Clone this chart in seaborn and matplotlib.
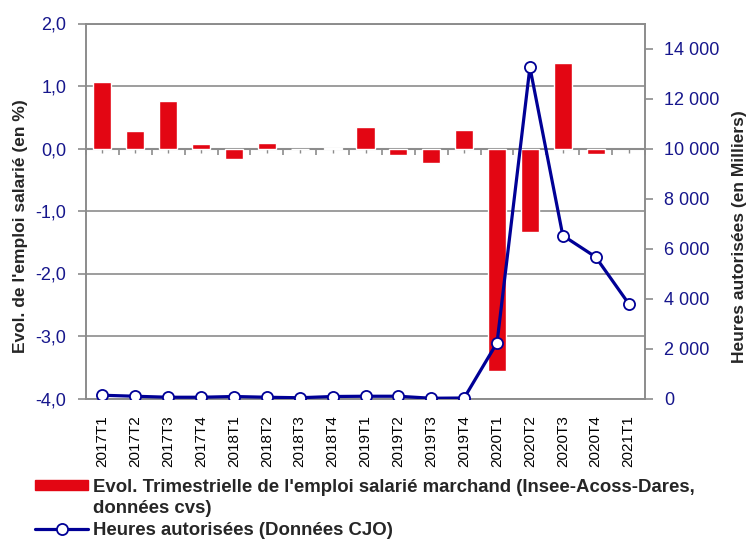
import numpy as np
import pandas as pd
import matplotlib
matplotlib.use("Agg")
import matplotlib.pyplot as plt
import seaborn as sns
from matplotlib.patches import Patch
from matplotlib.lines import Line2D
from matplotlib.ticker import FuncFormatter

# data
quarters = ["2017T1", "2017T2", "2017T3", "2017T4",
            "2018T1", "2018T2", "2018T3", "2018T4",
            "2019T1", "2019T2", "2019T3", "2019T4",
            "2020T1", "2020T2", "2020T3", "2020T4", "2021T1"]
emploi = [1.07, 0.28, 0.76, 0.08, -0.17, 0.09, 0.0, 0.01,
          0.35, -0.11, -0.23, 0.30, -3.56, -1.34, 1.37, -0.08, np.nan]
heures = [130, 90, 50, 50, 80, 50, 30, 80,
          90, 90, 10, 20, 2230, 13250, 6520, 5660, 3800]

lbl_emploi = "Evol. Trimestrielle de l'emploi salarié marchand (Insee-Acoss-Dares,"
lbl_emploi_2 = "données cvs)"
lbl_heures = "Heures autorisées (Données CJO)"

df = pd.DataFrame({"trimestre": quarters, "emploi": emploi, "heures": heures})

red = "#e30613"
navy = "#000096"
tickblue = "#16168c"
grey = "#8c8c8c"

sns.set_style("white")
plt.rcParams["font.family"] = ["Liberation Sans", "DejaVu Sans"]

fig = plt.figure(figsize=(7.5, 5.41), dpi=100)
# plot area: 86..645 px wide, 23..398 px tall
ax = fig.add_axes([86 / 750, 142.5 / 541, 559 / 750, 375 / 541])

sns.barplot(data=df, x="trimestre", y="emploi", color=red, saturation=1,
            width=0.55, ax=ax, zorder=3)
ax.set_ylim(-4, 2)
ax.set_yticks(np.arange(-4, 2.1, 1))
ax.yaxis.set_major_formatter(FuncFormatter(lambda v, p: f"{v:.1f}".replace(".", ",")))
ax.grid(axis="y", color=grey, linewidth=1.2, zorder=0)
ax.set_axisbelow(True)
for s in ["left", "bottom", "top", "right"]:
    ax.spines[s].set_color(grey)
    ax.spines[s].set_linewidth(1.2)
ax.tick_params(axis="y", colors=grey, labelcolor=tickblue, labelsize=13,
               length=6, width=1.2, left=True, direction="out", pad=8)
ax.tick_params(axis="x", length=0, labelsize=11, labelrotation=90, pad=12,
               labelcolor="black")
ax.set_xlabel("")
ax.set_ylabel("Evol. de l'emploi salarié (en %)", fontsize=12.5,
              fontweight="bold")
ax.yaxis.set_label_coords(-0.104, 0.459)

# category axis crossing at zero: line plus small tick marks below it
n = len(quarters)
ax.hlines(0, -0.5, n - 0.5, color=grey, linewidth=1.5, zorder=2.5)
ax.plot(np.arange(-0.5, n, 1), np.zeros(n + 1), linestyle="none", marker=3,
        markersize=4, markeredgewidth=1.2, color=grey, zorder=2, clip_on=False)
ax.plot(np.arange(0, n, 1), np.zeros(n), linestyle="none", marker=3,
        markersize=3, markeredgewidth=1.0, color=grey, zorder=2)

ax2 = ax.twinx()
sns.pointplot(data=df, x="trimestre", y="heures", color=navy, ax=ax2,
              markers="o", linewidth=2.3, markersize=8,
              markerfacecolor="white", markeredgecolor=navy,
              markeredgewidth=1.3, zorder=5)
ax2.set_ylim(0, 15000)
ax2.set_yticks(np.arange(0, 14001, 2000))
ax2.yaxis.set_major_formatter(FuncFormatter(lambda v, p: f"{int(v):,}".replace(",", " ")))
ax2.tick_params(axis="y", colors=grey, labelcolor=tickblue, labelsize=13,
                length=6, width=1.2, right=True, direction="out", pad=8)
ax2.set_ylabel("Heures autorisées (en Milliers)", fontsize=12.5,
               fontweight="bold")
ax2.yaxis.set_label_coords(1.1557, 0.432)
ax2.grid(False)
for s in ["left", "bottom", "top", "right"]:
    ax2.spines[s].set_color(grey)
    ax2.spines[s].set_linewidth(1.2)
ax.set_xlim(-0.5, n - 0.5)
ax2.set_xlim(-0.5, n - 0.5)

# legend: the long label wraps onto a second row without a key
handles = [Patch(facecolor=red, edgecolor=red),
           Patch(facecolor="none", edgecolor="none"),
           Line2D([0], [0], color=navy, linewidth=2.3, marker="o",
                  markersize=8, markerfacecolor="white",
                  markeredgecolor=navy, markeredgewidth=1.3)]
fig.legend(handles, [lbl_emploi, lbl_emploi_2, lbl_heures], loc="upper left",
           bbox_to_anchor=(0.0467, 0.115), frameon=False,
           prop={"weight": "bold", "size": 13.4}, handlelength=2.85,
           handleheight=0.45, handletextpad=0.27, labelspacing=0.25,
           borderpad=0, borderaxespad=0)

fig.savefig("out.png", dpi=100)
